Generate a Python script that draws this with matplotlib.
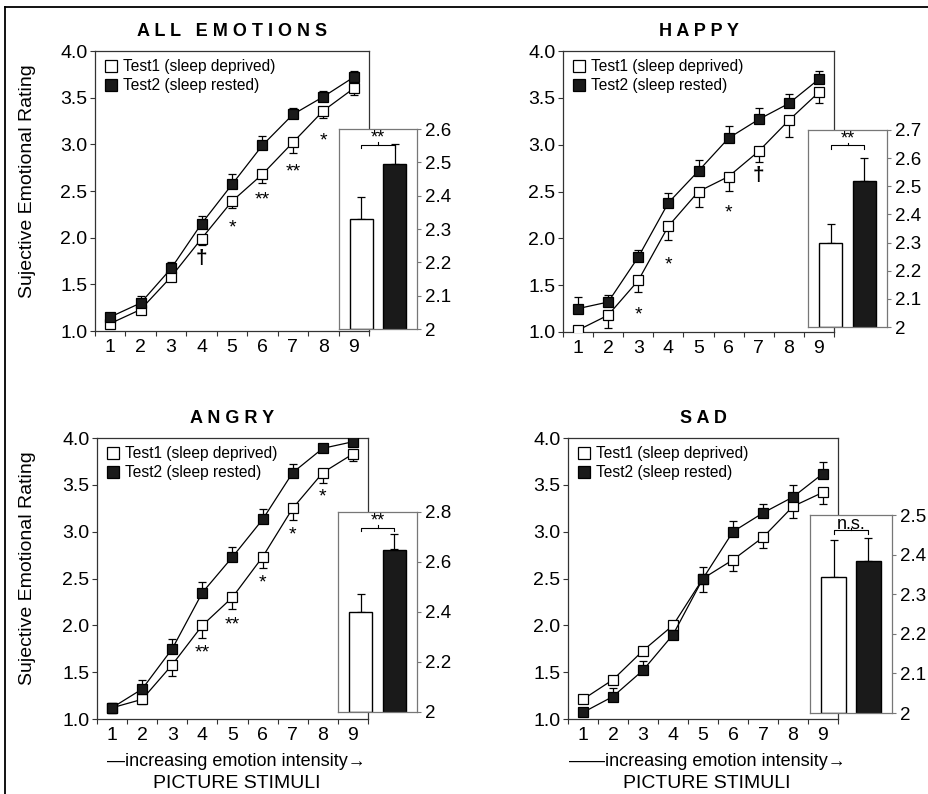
import matplotlib
matplotlib.use("Agg")
import matplotlib.pyplot as plt
from matplotlib.lines import Line2D
import numpy as np

plt.rcParams['font.family'] = ['Liberation Sans', 'DejaVu Sans']

W, H = 929, 794
stimuli = [1, 2, 3, 4, 5, 6, 7, 8, 9]
legend_labels = ["Test1 (sleep deprived)", "Test2 (sleep rested)"]

# ---- ALL EMOTIONS ----
all_t1 = [1.08, 1.23, 1.58, 1.99, 2.39, 2.68, 3.02, 3.36, 3.60]
all_t1_err = [0.03, 0.03, 0.04, 0.07, 0.07, 0.09, 0.11, 0.08, 0.07]
all_t2 = [1.15, 1.30, 1.67, 2.15, 2.57, 2.99, 3.32, 3.51, 3.72]
all_t2_err = [0.03, 0.07, 0.07, 0.08, 0.11, 0.10, 0.07, 0.06, 0.07]
all_marks = [(4, 1.78, '†'), (5, 2.10, '*'), (6, 2.40, '**'), (7, 2.70, '**'), (8, 3.04, '*')]
all_bar = [2.33, 2.495]
all_bar_err = [0.065, 0.06]

# ---- HAPPY ----
hap_t1 = [1.02, 1.18, 1.55, 2.13, 2.50, 2.66, 2.93, 3.26, 3.56]
hap_t1_err = [0.02, 0.14, 0.12, 0.15, 0.17, 0.15, 0.12, 0.18, 0.11]
hap_t2 = [1.25, 1.32, 1.80, 2.38, 2.72, 3.07, 3.27, 3.44, 3.70]
hap_t2_err = [0.12, 0.08, 0.08, 0.10, 0.12, 0.13, 0.12, 0.10, 0.09]
hap_marks = [(3, 1.18, '*'), (4, 1.72, '*'), (6, 2.27, '*'), (7, 2.67, '†')]
hap_bar = [2.30, 2.52]
hap_bar_err = [0.065, 0.08]

# ---- ANGRY ----
ang_t1 = [1.12, 1.21, 1.58, 2.00, 2.30, 2.73, 3.25, 3.63, 3.83]
ang_t1_err = [0.06, 0.05, 0.12, 0.13, 0.13, 0.12, 0.13, 0.11, 0.08]
ang_t2 = [1.12, 1.32, 1.75, 2.35, 2.73, 3.13, 3.63, 3.89, 3.96]
ang_t2_err = [0.05, 0.10, 0.10, 0.11, 0.11, 0.11, 0.09, 0.04, 0.02]
ang_marks = [(4, 1.71, '**'), (5, 2.00, '**'), (6, 2.45, '*'), (7, 2.96, '*'), (8, 3.37, '*')]
ang_bar = [2.40, 2.65]
ang_bar_err = [0.07, 0.06]

# ---- SAD ----
sad_t1 = [1.21, 1.42, 1.73, 2.00, 2.50, 2.70, 2.94, 3.27, 3.42]
sad_t1_err = [0.03, 0.03, 0.03, 0.03, 0.14, 0.12, 0.11, 0.12, 0.12]
sad_t2 = [1.07, 1.24, 1.52, 1.90, 2.50, 3.00, 3.20, 3.37, 3.62]
sad_t2_err = [0.03, 0.09, 0.10, 0.03, 0.12, 0.11, 0.10, 0.13, 0.12]
sad_marks = []
sad_bar = [2.343, 2.385]
sad_bar_err = [0.095, 0.057]

fig = plt.figure(figsize=(W / 100, H / 100), dpi=100)


def rect(l, t, r, b):
    return [l / W, 1 - b / H, (r - l) / W, (b - t) / H]


def fx(x):
    return x / W


def fy(y):
    return 1 - y / H


SPINE = '#333333'
INSET_SPINE = '#777777'


def panel(main_box, inset_box, title, t1, t1e, t2, t2e, marks, bars, bars_err,
          ylim_in, yticks_in, sig, ylabel, xlabel):
    ax = fig.add_axes(rect(*main_box))
    x = np.array(stimuli)
    t1 = np.array(t1); t2 = np.array(t2)
    t1e = np.array(t1e); t2e = np.array(t2e)
    z = np.zeros_like(t1e)
    ax.errorbar(x, t1, yerr=[t1e, z], fmt='none', ecolor='black', elinewidth=0.9,
                capsize=3, capthick=0.9, zorder=2)
    ax.errorbar(x, t2, yerr=[z, t2e], fmt='none', ecolor='black', elinewidth=0.9,
                capsize=3, capthick=0.9, zorder=2)
    ax.plot(x, t1, color='black', lw=0.9, marker='s', ms=6.8, mfc='white', mec='black',
            mew=0.9, zorder=4)
    ax.plot(x, t2, color='black', lw=0.9, marker='s', ms=6.8, mfc='#1a1a1a', mec='black',
            mew=0.9, zorder=5)
    for (mx, my, s) in marks:
        ax.text(mx, my, s, ha='center', va='center', fontsize=14 if s != '†' else 15,
                fontweight='bold' if s == '†' else 'normal', zorder=6)
    ax.set_xlim(0.5, 9.5)
    ax.set_ylim(1.0, 4.0)
    ax.set_yticks([1.0, 1.5, 2.0, 2.5, 3.0, 3.5, 4.0])
    ax.set_yticklabels(['1.0', '1.5', '2.0', '2.5', '3.0', '3.5', '4.0'])
    ax.set_xticks(stimuli)
    ax.set_xticklabels([str(s) for s in stimuli])
    ax.set_xticks(np.arange(0.5, 10.0, 1.0), minor=True)
    ax.tick_params(axis='x', which='major', length=0, pad=6, labelsize=14)
    ax.tick_params(axis='x', which='minor', length=3.5, direction='out', width=0.8, color=SPINE)
    ax.tick_params(axis='y', length=3.5, direction='out', width=0.8, pad=2, labelsize=14, color=SPINE)
    for sp in ax.spines.values():
        sp.set_color(SPINE)
        sp.set_linewidth(0.9)
    handles = [Line2D([], [], ls='none', marker='s', ms=9, mfc='white', mec='black', mew=0.9),
               Line2D([], [], ls='none', marker='s', ms=9, mfc='#1a1a1a', mec='black', mew=0.9)]
    ax.legend(handles, legend_labels, loc='upper left', bbox_to_anchor=(-0.005, 1.01),
              frameon=False, fontsize=11.2, handlelength=0.8, handletextpad=0.4,
              labelspacing=0.25, borderaxespad=0.3)

    l, t, r, b = main_box
    cx = (l + r) / 2
    fig.text(fx(cx), fy(t - 20), title, ha='center', va='center', fontsize=13,
             fontweight='bold')
    if ylabel:
        fig.text(fx(28), fy((t + b) / 2 - 10), 'Sujective Emotional Rating', rotation=90,
                 ha='center', va='center', fontsize=14)
    if xlabel:
        fig.text(fx(cx + 4), fy(b + 42), xlabel, ha='center', va='center', fontsize=13)
        fig.text(fx(cx + 4), fy(b + 64), 'PICTURE STIMULI', ha='center', va='center', fontsize=14)

    # inset bar chart
    ia = fig.add_axes(rect(*inset_box))
    ia.set_facecolor('white')
    bx = [0, 1]
    ia.bar(bx, np.array(bars) - ylim_in[0], bottom=ylim_in[0], width=0.7,
           color=['white', '#1a1a1a'], edgecolor='black', linewidth=1.0, zorder=2)
    ia.errorbar(bx, bars, yerr=[[0, 0], bars_err], fmt='none', ecolor='black',
                elinewidth=0.9, capsize=3, capthick=0.9, zorder=1)
    ia.set_xlim(-0.68, 1.68)
    ia.set_ylim(*ylim_in)
    ia.set_xticks([])
    ia.yaxis.tick_right()
    ia.set_yticks(yticks_in)
    ia.set_yticklabels(['{:g}'.format(v) for v in yticks_in])
    ia.tick_params(axis='y', length=3, direction='out', width=0.8, pad=3, labelsize=13.5,
                   color=INSET_SPINE)
    for sp in ia.spines.values():
        sp.set_color(INSET_SPINE)
        sp.set_linewidth(0.9)
    span = ylim_in[1] - ylim_in[0]
    by = ylim_in[0] + 0.922 * span
    dt = 0.018 * span
    ia.plot([0, 0, 1, 1], [by - dt, by, by, by - dt], color='black', lw=0.8, zorder=3)
    ia.plot([0.5, 0.5], [by, by + dt * 0.7], color='black', lw=0.8, zorder=3)
    ia.text(0.5, by - dt * 0.6, sig, ha='center', va='bottom', fontsize=13)
    return ax, ia


panel((95, 51, 369, 331), (339, 129, 417, 329), 'A L L   E M O T I O N S',
      all_t1, all_t1_err, all_t2, all_t2_err, all_marks, all_bar, all_bar_err,
      (2.0, 2.6), [2.0, 2.1, 2.2, 2.3, 2.4, 2.5, 2.6], '**', True, None)
panel((563, 51, 834, 332), (808, 130, 887, 327), 'H A P P Y',
      hap_t1, hap_t1_err, hap_t2, hap_t2_err, hap_marks, hap_bar, hap_bar_err,
      (2.0, 2.7), [2.0, 2.1, 2.2, 2.3, 2.4, 2.5, 2.6, 2.7], '**', False, None)
panel((97, 438, 368, 719), (338, 512, 417, 712), 'A N G R Y',
      ang_t1, ang_t1_err, ang_t2, ang_t2_err, ang_marks, ang_bar, ang_bar_err,
      (2.0, 2.8), [2.0, 2.2, 2.4, 2.6, 2.8], '**', True,
      '\u2014increasing emotion intensity\u2192')
panel((568, 438, 838, 719), (810, 515, 892, 713), 'S A D',
      sad_t1, sad_t1_err, sad_t2, sad_t2_err, sad_marks, sad_bar, sad_bar_err,
      (2.0, 2.5), [2.0, 2.1, 2.2, 2.3, 2.4, 2.5], 'n.s.', False,
      '\u2014\u2014increasing emotion intensity\u2192')

# outer frame lines (top and left)
fig.add_artist(Line2D([fx(5), 1.0], [fy(7), fy(7)], color='black', lw=1.3,
                      transform=fig.transFigure))
fig.add_artist(Line2D([fx(5), fx(5)], [fy(7), 0.0], color='black', lw=1.3,
                      transform=fig.transFigure))

fig.savefig('out.png', dpi=100)
